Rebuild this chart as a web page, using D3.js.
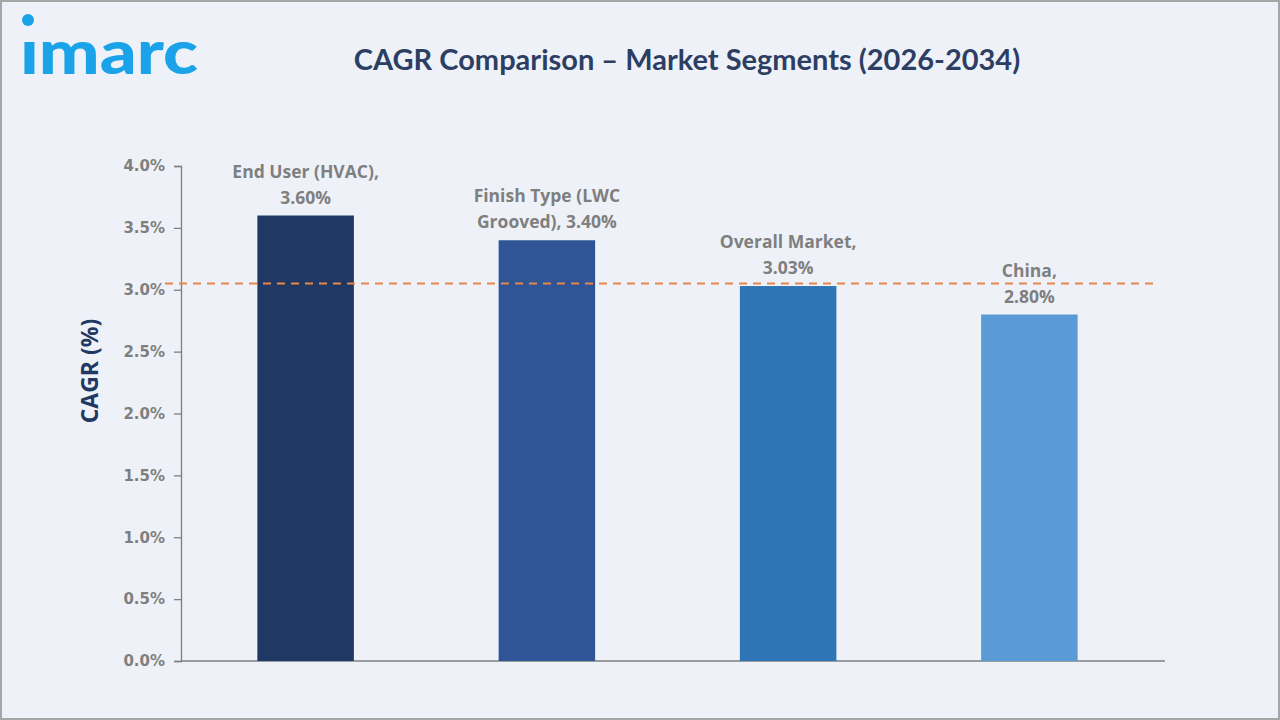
<!DOCTYPE html>
<html>
<head>
<meta charset="utf-8">
<script src="https://cdn.jsdelivr.net/npm/d3@7"></script>
<style>
  html, body { margin: 0; padding: 0; background: #eef2f8; }
  svg { display: block; }
</style>
</head>
<body>
<svg id="chart" width="1280" height="720"></svg>
<script>
// ---------------------------------------------------------------------
// data
// ---------------------------------------------------------------------
const categories = ['End User (HVAC)', 'Finish Type (LWC Grooved)', 'Overall Market', 'China'];
const labelLines = [
  ['End User (HVAC),', '3.60%'],
  ['Finish Type (LWC', 'Grooved), 3.40%'],
  ['Overall Market,', '3.03%'],
  ['China,', '2.80%']
];
const cagrValues = [3.60, 3.40, 3.03, 2.80];
const barColors = ['#1f3864', '#2f5597', '#2e75b6', '#5b9bd5'];
const yTicks = [0, 0.5, 1.0, 1.5, 2.0, 2.5, 3.0, 3.5, 4.0];
const referenceLine = 3.05;

// ---------------------------------------------------------------------
// setup
// ---------------------------------------------------------------------
const W = 1280, H = 720;
const svg = d3.select('#chart');

svg.append('rect')
  .attr('x', 1).attr('y', 1)
  .attr('width', W - 2).attr('height', H - 2)
  .attr('fill', '#eef2f8')
  .attr('stroke', '#a6a6a6')
  .attr('stroke-width', 2);

// logo
svg.append('text')
  .attr('x', 20).attr('y', 74)
  .attr('font-family', 'Lato, sans-serif')
  .attr('font-weight', 900)
  .attr('font-size', 60)
  .attr('fill', '#1aa3e8')
  .attr('textLength', 178)
  .attr('lengthAdjust', 'spacingAndGlyphs')
  .text('\u0131marc');
svg.append('circle')
  .attr('cx', 28).attr('cy', 20).attr('r', 6)
  .attr('fill', '#1aa3e8');

// title
svg.append('text')
  .attr('x', 687).attr('y', 70)
  .attr('text-anchor', 'middle')
  .attr('font-family', 'Lato, sans-serif')
  .attr('font-weight', 700)
  .attr('font-size', 29)
  .attr('fill', '#2d3e63')
  .text('CAGR Comparison \u2013 Market Segments (2026-2034)');

// ---------------------------------------------------------------------
// scales
// ---------------------------------------------------------------------
const x = d3.scaleBand()
  .domain(categories)
  .range([185, 1150])
  .paddingInner(0.6)
  .paddingOuter(0.3);

const y = d3.scaleLinear()
  .domain([0, 4])
  .range([661, 166]);

// y axis
const yAxis = svg.append('g')
  .attr('transform', 'translate(181,0)')
  .call(d3.axisLeft(y).tickValues(yTicks).tickSize(7).tickSizeOuter(7)
    .tickFormat(d => d.toFixed(1) + '%'));
yAxis.select('.domain').attr('stroke', '#7f7f7f').attr('stroke-width', 1.3);
yAxis.selectAll('.tick line').attr('stroke', '#7f7f7f').attr('stroke-width', 1.3);
yAxis.selectAll('.tick text')
  .attr('x', -16)
  .attr('fill', '#7f7f7f')
  .attr('font-family', '"DejaVu Sans", sans-serif')
  .attr('font-weight', 700)
  .attr('font-size', 15);

// x axis baseline
svg.append('line')
  .attr('x1', 181).attr('x2', 1165)
  .attr('y1', y(0)).attr('y2', y(0))
  .attr('stroke', '#7f7f7f')
  .attr('stroke-width', 1.3);

// y axis title
svg.append('text')
  .attr('transform', 'translate(98,371) rotate(-90)')
  .attr('text-anchor', 'middle')
  .attr('font-family', '"Open Sans", sans-serif')
  .attr('font-weight', 700)
  .attr('font-size', 23)
  .attr('fill', '#1f3864')
  .text('CAGR (%)');

// bars
svg.append('g').selectAll('rect')
  .data(cagrValues)
  .join('rect')
  .attr('x', (d, i) => x(categories[i]))
  .attr('y', d => y(d))
  .attr('width', x.bandwidth())
  .attr('height', d => y(0) - y(d))
  .attr('fill', (d, i) => barColors[i]);

// reference dashed line
svg.append('line')
  .attr('x1', 165).attr('x2', 1155)
  .attr('y1', y(referenceLine)).attr('y2', y(referenceLine))
  .attr('stroke', '#e8864a')
  .attr('stroke-width', 2)
  .attr('stroke-dasharray', '8,6');

// data labels
const labels = svg.append('g').selectAll('text')
  .data(cagrValues)
  .join('text')
  .attr('text-anchor', 'middle')
  .attr('font-family', '"Open Sans", sans-serif')
  .attr('font-weight', 700)
  .attr('font-size', 17.5)
  .attr('fill', '#7f7f7f');

labels.each(function (d, i) {
  const cx = x(categories[i]) + x.bandwidth() / 2;
  const base = y(d) - 12;
  d3.select(this).selectAll('tspan')
    .data(labelLines[i])
    .join('tspan')
    .attr('x', cx)
    .attr('y', (t, j) => base - (labelLines[i].length - 1 - j) * 26)
    .text(t => t);
});
</script>
</body>
</html>
